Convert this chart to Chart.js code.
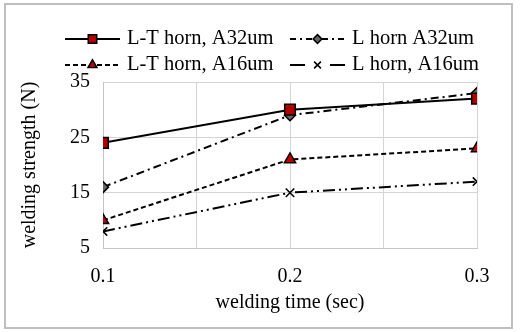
<!DOCTYPE html>
<html>
<head>
<meta charset="utf-8">
<script src="https://cdn.jsdelivr.net/npm/chart.js@4"></script>
<style>
  html, body { margin: 0; padding: 0; background: #fff; }
  #box { width: 520px; height: 332px; }
</style>
</head>
<body>
<div id="box"><canvas id="chart"></canvas></div>
<script>
// welding time (sec)
var times = [0.1, 0.2, 0.3];
var xTicks = [0.1, 0.2, 0.3];
var yTicks = [5, 15, 25, 35];

// welding strength (N)
var ltHornA32 = [24, 30, 32];
var lHornA32 = [16, 29, 33];
var ltHornA16 = [10, 21, 23];
var lHornA16 = [8, 15, 17];

var seriesNames = ["L-T horn, A32um", "L horn A32um", "L-T horn, A16um", "L horn, A16um"];

var serif = "'Liberation Serif', 'Times New Roman', serif";

function points(values) {
    var result = [];
    for (var i = 0; i < times.length; i++) {
        result.push({ x: times[i], y: values[i] });
    }
    return result;
}

function makeSet(label, values, dash, style, radius, fill) {
    return {
        label: label,
        data: points(values),
        borderColor: "#000",
        borderWidth: 2,
        borderDash: dash,
        fill: false,
        tension: 0,
        pointStyle: style,
        pointRadius: radius,
        pointBackgroundColor: fill,
        pointBorderColor: "#000",
        pointBorderWidth: 1.5
    };
}

var datasets = [
    makeSet(seriesNames[0], ltHornA32, [], "rect", 7.5, "#b00000"),
    makeSet(seriesNames[1], lHornA32, [8, 4, 2, 4], "rectRot", 5.5, "#666666"),
    makeSet(seriesNames[2], ltHornA16, [5, 3], "triangle", 6.5, "#c00000"),
    makeSet(seriesNames[3], lHornA16, [12, 4, 2, 4, 2, 4], "crossRot", 6, "#000")
];

// hand drawn legend: line sample with marker in the middle, then the text
var legendSpots = [
    { x: 65, y: 39, w: 55, dash: [] },
    { x: 290, y: 39, w: 55, dash: [6, 4, 2, 4] },
    { x: 65, y: 65, w: 55, dash: [5, 3] },
    { x: 290, y: 65, w: 55, dash: [15, 25, 15] }
];

var legendPlugin = {
    id: "sketchLegend",
    afterDraw: function (chart) {
        var ctx = chart.ctx;
        ctx.save();
        for (var i = 0; i < datasets.length; i++) {
            var ds = datasets[i];
            var spot = legendSpots[i];
            ctx.strokeStyle = "#000";
            ctx.lineWidth = 2;
            ctx.setLineDash(spot.dash);
            ctx.beginPath();
            ctx.moveTo(spot.x, spot.y);
            ctx.lineTo(spot.x + spot.w, spot.y);
            ctx.stroke();
            ctx.setLineDash([]);
            ctx.fillStyle = ds.pointBackgroundColor;
            ctx.strokeStyle = "#000";
            ctx.lineWidth = 1.5;
            Chart.helpers.drawPoint(ctx, {
                pointStyle: ds.pointStyle,
                radius: ds.pointRadius * 0.8,
                rotation: 0,
                borderWidth: 1.5
            }, spot.x + spot.w / 2, spot.y);
            ctx.fillStyle = "#000";
            ctx.font = "20.5px " + serif;
            ctx.textBaseline = "middle";
            ctx.textAlign = "left";
            ctx.fillText(ds.label, spot.x + spot.w + 7, spot.y);
        }
        ctx.restore();
    }
};

var framePlugin = {
    id: "frame",
    beforeDraw: function (chart) {
        var ctx = chart.ctx;
        ctx.save();
        ctx.fillStyle = "#fff";
        ctx.fillRect(0, 0, chart.width, chart.height);
        ctx.strokeStyle = "#bfbfbf";
        ctx.lineWidth = 2;
        ctx.strokeRect(5, 4, 507, 324);
        ctx.restore();
    }
};

const ctx = document.getElementById("chart").getContext("2d");

var config = {
    type: "line",
    data: { datasets: datasets },
    options: {
        responsive: true,
        maintainAspectRatio: false,
        animation: false,
        layout: { padding: { left: 0, right: 43, top: 82, bottom: 0 } },
        plugins: {
            legend: { display: false },
            tooltip: { enabled: false }
        },
        scales: {
            x: {
                type: "linear",
                min: 0.1,
                max: 0.3,
                afterFit: function (scale) { scale.height = 84; },
                ticks: {
                    stepSize: 0.05,
                    autoSkip: false,
                    maxRotation: 0,
                    padding: 17,
                    color: "#000",
                    font: { family: serif, size: 20 },
                    callback: function (v) {
                        for (var i = 0; i < xTicks.length; i++) {
                            if (Math.abs(v - xTicks[i]) < 1e-6) return xTicks[i].toFixed(1);
                        }
                        return "";
                    }
                },
                grid: { color: "#d4d4d4", lineWidth: 1, drawTicks: false },
                border: { color: "#c4c4c4", width: 1 },
                title: {
                    display: true,
                    text: "welding time (sec)",
                    color: "#000",
                    font: { family: serif, size: 20 },
                    padding: { top: 4, bottom: 17 }
                }
            },
            y: {
                min: yTicks[0],
                max: yTicks[yTicks.length - 1],
                afterFit: function (scale) { scale.width = 103; },
                ticks: {
                    stepSize: 10,
                    padding: 13,
                    color: "#000",
                    font: { family: serif, size: 20 }
                },
                grid: { color: "#d4d4d4", lineWidth: 1, drawTicks: false },
                border: { color: "#c4c4c4", width: 1 },
                title: {
                    display: true,
                    text: "welding strength (N)",
                    color: "#000",
                    font: { family: serif, size: 20 },
                    padding: { top: 18, bottom: 0 }
                }
            }
        }
    },
    plugins: [framePlugin, legendPlugin]
};

new Chart(ctx, config);
</script>
</body>
</html>
